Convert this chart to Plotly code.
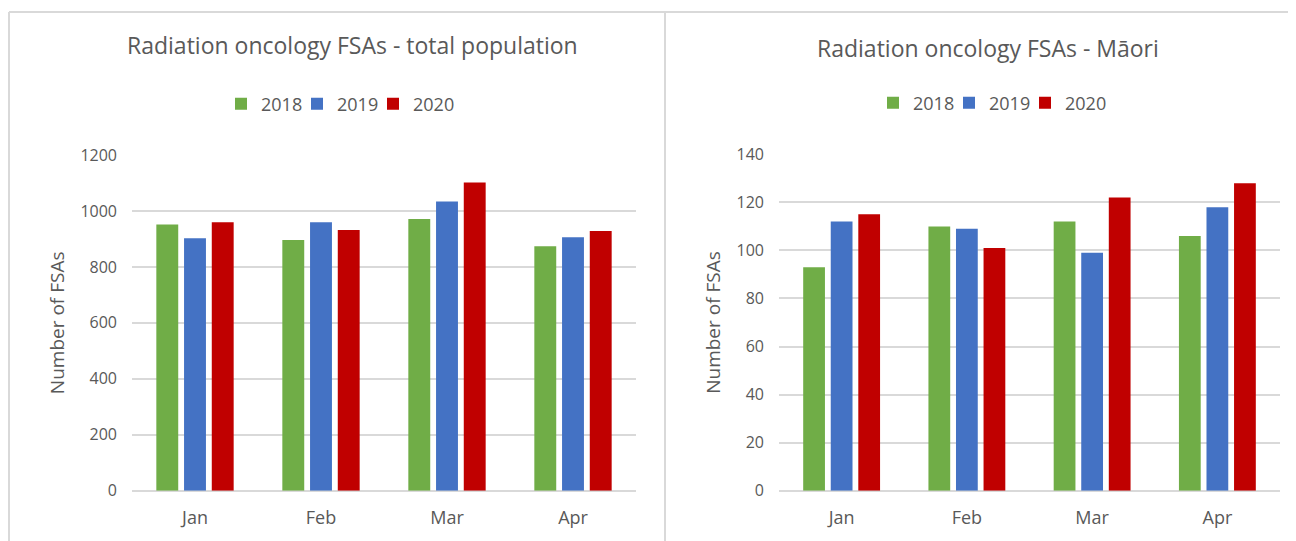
import plotly.graph_objects as go

months = ["Jan", "Feb", "Mar", "Apr"]
years = ["2018", "2019", "2020"]
colors = {"2018": "#70ad47", "2019": "#4472c4", "2020": "#c00000"}

total_2018 = [952, 896, 971, 874]
total_2019 = [902, 960, 1034, 906]
total_2020 = [960, 932, 1102, 928]

maori_2018 = [93, 110, 112, 106]
maori_2019 = [112, 109, 99, 118]
maori_2020 = [115, 101, 122, 128]

total = {"2018": total_2018, "2019": total_2019, "2020": total_2020}
maori = {"2018": maori_2018, "2019": maori_2019, "2020": maori_2020}

OFF = 8  # page body margin
W, H = 1296 - OFF, 541 - OFF
FONT = "Open Sans"
TXT = "#595959"
GRID = "#d9d9d9"


def px(x):
    return (x - OFF) / W


def py(y):
    return 1 - (y - OFF) / H


# one legend per entry so the spacing can match the reference
left_leg = {"2018": "legend", "2019": "legend2", "2020": "legend3"}
right_leg = {"2018": "legend4", "2019": "legend5", "2020": "legend6"}

fig = go.Figure()
for yr in years:
    fig.add_trace(go.Bar(x=months, y=total[yr], name=yr, marker_color=colors[yr],
                         marker_line_width=0, xaxis="x", yaxis="y", legend=left_leg[yr],
                         showlegend=True))
for yr in years:
    fig.add_trace(go.Bar(x=months, y=maori[yr], name=yr, marker_color=colors[yr],
                         marker_line_width=0, xaxis="x2", yaxis="y2", legend=right_leg[yr],
                         showlegend=True))

axis_common = dict(showline=False, ticks="", automargin=False, fixedrange=True)
ycommon = dict(axis_common, showgrid=True, gridcolor=GRID, gridwidth=1.5,
               zeroline=True, zerolinecolor=GRID, zerolinewidth=2,
               ticklabelstandoff=14,
               tickfont=dict(family=FONT, size=16, color=TXT),
               title=dict(text="Number of FSAs", font=dict(family=FONT, size=19, color=TXT),
                          standoff=10))
xcommon = dict(axis_common, showgrid=False, zeroline=False, ticklabelstandoff=14,
               tickfont=dict(family=FONT, size=18, color=TXT))

legend_common = dict(orientation="h", xanchor="left", yanchor="middle",
                     font=dict(family=FONT, size=18, color=TXT), itemwidth=30,
                     bgcolor="rgba(0,0,0,0)", itemclick=False, itemdoubleclick=False)

fig.update_layout(
    width=W, height=H,
    showlegend=True,
    margin=dict(l=0, r=0, t=0, b=0, autoexpand=False),
    paper_bgcolor="white", plot_bgcolor="white",
    barmode="group", bargap=0.34, bargroupgap=0.21,
    font=dict(family=FONT, color=TXT),
    xaxis=dict(xcommon, domain=[px(132), px(636)], anchor="y"),
    yaxis=dict(ycommon, domain=[py(490.7), py(155)], range=[0, 1200], dtick=200, anchor="x"),
    xaxis2=dict(xcommon, domain=[px(779), px(1280)], anchor="y2"),
    yaxis2=dict(ycommon, domain=[py(490.7), py(154.3)], range=[0, 140], dtick=20, anchor="x2"),
    legend=dict(legend_common, x=px(221), y=py(104)),
    legend2=dict(legend_common, x=px(297), y=py(104)),
    legend3=dict(legend_common, x=px(373), y=py(104)),
    legend4=dict(legend_common, x=px(873), y=py(103)),
    legend5=dict(legend_common, x=px(949), y=py(103)),
    legend6=dict(legend_common, x=px(1025), y=py(103)),
    annotations=[
        dict(text="Radiation oncology FSAs - total population", x=px(352), y=py(45),
             xref="paper", yref="paper", showarrow=False, xanchor="center", yanchor="middle",
             font=dict(family=FONT, size=23, color=TXT)),
        dict(text="Radiation oncology FSAs - Māori", x=px(988), y=py(48),
             xref="paper", yref="paper", showarrow=False, xanchor="center", yanchor="middle",
             font=dict(family=FONT, size=23, color=TXT)),
    ],
    shapes=[
        dict(type="line", xref="paper", yref="paper", x0=px(9), x1=px(1300), y0=py(12), y1=py(12),
             line=dict(color=GRID, width=2)),
        dict(type="line", xref="paper", yref="paper", x0=px(9), x1=px(9), y0=py(12), y1=py(545),
             line=dict(color=GRID, width=2)),
        dict(type="line", xref="paper", yref="paper", x0=px(665), x1=px(665), y0=py(12), y1=py(545),
             line=dict(color=GRID, width=2)),
    ],
)

fig.write_html("out.html")
